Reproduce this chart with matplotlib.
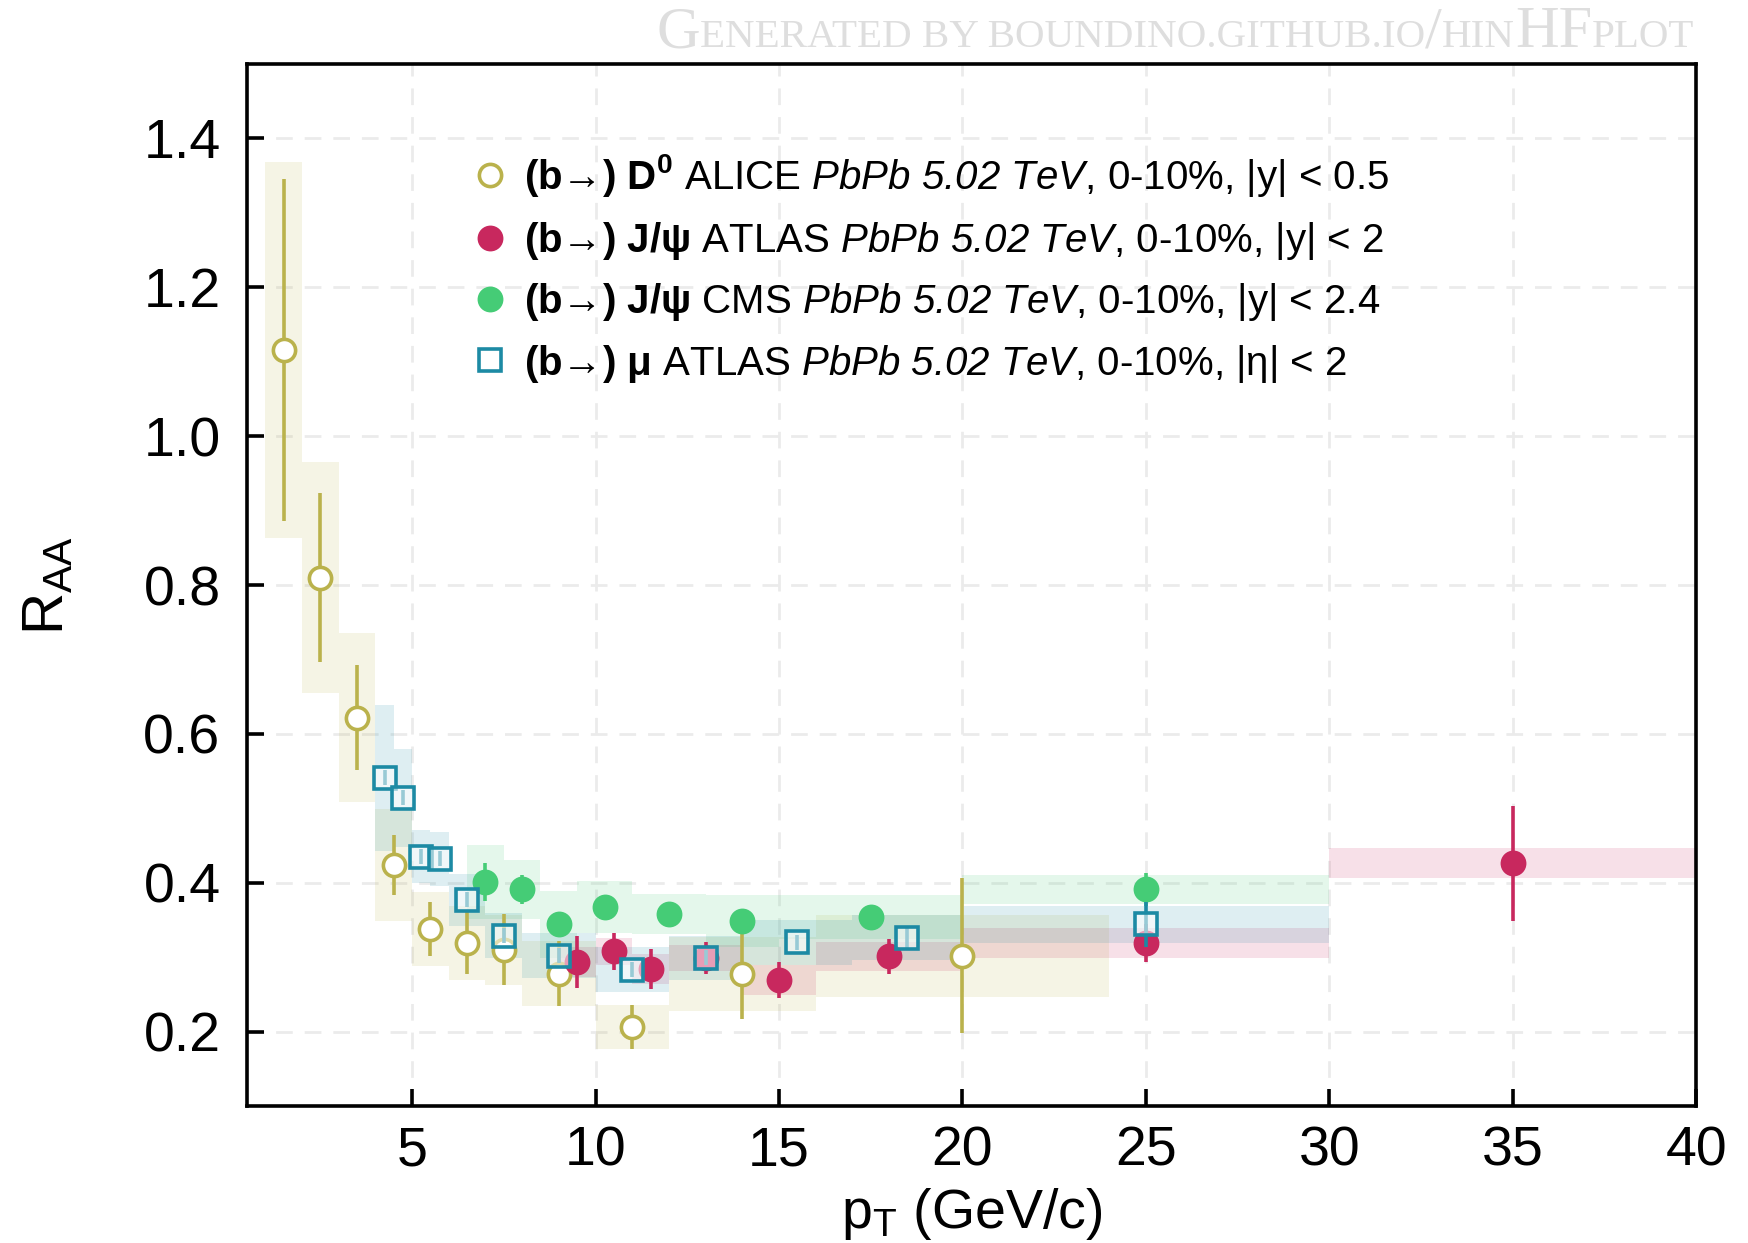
import matplotlib
matplotlib.use("Agg")
import matplotlib.pyplot as plt
from matplotlib.transforms import offset_copy

plt.rcParams["font.family"] = ["Liberation Sans", "DejaVu Sans"]
plt.rcParams["mathtext.fontset"] = "custom"
plt.rcParams["mathtext.rm"] = "Liberation Sans"
plt.rcParams["mathtext.it"] = "Liberation Sans:italic"
plt.rcParams["mathtext.sf"] = "Liberation Sans:italic"
plt.rcParams["mathtext.bf"] = "Liberation Sans:bold"

# (b->) D0 ALICE
alice_x = [1.5, 2.5, 3.5, 4.5, 5.5, 6.5, 7.5, 9, 11, 14, 20]
alice_lo = [1, 2, 3, 4, 5, 6, 7, 8, 10, 12, 16]
alice_hi = [2, 3, 4, 5, 6, 7, 8, 10, 12, 16, 24]
alice_y = [1.116, 0.810, 0.622, 0.424, 0.338, 0.319, 0.310, 0.278, 0.206, 0.277, 0.302]
alice_stat = [0.23, 0.113, 0.071, 0.04, 0.036, 0.042, 0.048, 0.044, 0.03, 0.06, 0.104]
alice_syst = [0.253, 0.155, 0.113, 0.075, 0.05, 0.05, 0.047, 0.044, 0.03, 0.05, 0.055]

# (b->) J/psi ATLAS
atlas_x = [9.5, 10.5, 11.5, 13, 15, 18, 25, 35]
atlas_lo = [9, 10, 11, 12, 14, 16, 20, 30]
atlas_hi = [10, 11, 12, 14, 16, 20, 30, 40]
atlas_y = [0.293, 0.308, 0.284, 0.299, 0.269, 0.301, 0.319, 0.426]
atlas_stat = [0.035, 0.025, 0.027, 0.021, 0.024, 0.024, 0.025, 0.077]
atlas_syst = [0.02, 0.018, 0.02, 0.018, 0.02, 0.02, 0.02, 0.02]

# (b->) J/psi CMS
cms_x = [7, 8, 9, 10.25, 12, 14, 17.5, 25]
cms_lo = [6.5, 7.5, 8.5, 9.5, 11, 13, 15, 20]
cms_hi = [7.5, 8.5, 9.5, 11, 13, 15, 20, 30]
cms_y = [0.401, 0.391, 0.344, 0.367, 0.358, 0.349, 0.354, 0.391]
cms_stat = [0.025, 0.02, 0.01, 0.01, 0.01, 0.01, 0.01, 0.022]
cms_syst = [0.05, 0.04, 0.045, 0.035, 0.027, 0.035, 0.03, 0.02]

# (b->) mu ATLAS
mu_x = [4.25, 4.75, 5.25, 5.75, 6.5, 7.5, 9, 11, 13, 15.5, 18.5, 25]
mu_lo = [4, 4.5, 5, 5.5, 6, 7, 8, 10, 12, 14, 17, 20]
mu_hi = [4.5, 5, 5.5, 6, 7, 8, 10, 12, 14, 17, 20, 30]
mu_y = [0.541, 0.514, 0.435, 0.432, 0.377, 0.329, 0.302, 0.283, 0.299, 0.320, 0.326, 0.344]
mu_stat = [0.01, 0.01, 0.01, 0.01, 0.01, 0.01, 0.01, 0.01, 0.01, 0.01, 0.015, 0.03]
mu_syst = [0.098, 0.066, 0.036, 0.036, 0.035, 0.03, 0.03, 0.03, 0.03, 0.03, 0.03, 0.025]

labels = [
    r"$\mathbf{(b→)\ D^{0}}$ ALICE $\mathsf{PbPb\ 5.02\ TeV}$, 0-10%, |y| < 0.5",
    r"$\mathbf{(b→)\ J/ψ}$ ATLAS $\mathsf{PbPb\ 5.02\ TeV}$, 0-10%, |y| < 2",
    r"$\mathbf{(b→)\ J/ψ}$ CMS $\mathsf{PbPb\ 5.02\ TeV}$, 0-10%, |y| < 2.4",
    r"$\mathbf{(b→)\ μ}$ ATLAS $\mathsf{PbPb\ 5.02\ TeV}$, 0-10%, |η| < 2",
]

series = [
    (alice_x, alice_lo, alice_hi, alice_y, alice_stat, alice_syst, "#bab24c", "o", "white"),
    (atlas_x, atlas_lo, atlas_hi, atlas_y, atlas_stat, atlas_syst, "#c8285e", "o", None),
    (cms_x, cms_lo, cms_hi, cms_y, cms_stat, cms_syst, "#45cc76", "o", None),
    (mu_x, mu_lo, mu_hi, mu_y, mu_stat, mu_syst, "#1c8aa4", "s", (1, 1, 1, 0.55)),
]

fig = plt.figure(figsize=(17.48, 12.43), dpi=100)
ax = fig.add_axes([0.1413, 0.1102, 0.829, 0.8383])

# systematic boxes
for x, lo, hi, y, stat, syst, c, m, fc in series:
    widths = [h - l for l, h in zip(lo, hi)]
    bottoms = [v - s for v, s in zip(y, syst)]
    heights = [2 * s for s in syst]
    ax.bar(lo, heights, width=widths, bottom=bottoms, align="edge",
           color=c, alpha=0.14, linewidth=0, zorder=1)

# points + stat errors, legend drawn by hand
leg_marker_y = [0.8935, 0.8335, 0.7747, 0.7158]
for i, (x, lo, hi, y, stat, syst, c, m, fc) in enumerate(series):
    face = c if fc is None else fc
    ms = 16 if m == "o" else 15.5
    ax.errorbar(x, y, yerr=stat, fmt=m, color=c, ms=ms, mfc=face, mec=c,
                mew=2.6, elinewidth=2.6, capsize=0, zorder=3 + i)
    ax.plot([0.168], [leg_marker_y[i]], ls="none", marker=m, ms=ms,
            mfc=face, mec=c, mew=2.6, transform=ax.transAxes, clip_on=False)
    ax.text(0.191, leg_marker_y[i] - 0.0138, labels[i], fontsize=29,
            va="baseline", ha="left", transform=ax.transAxes)

ax.set_xlim(0.5, 40)
ax.set_ylim(0.1, 1.5)
ax.set_xticks([5, 10, 15, 20, 25, 30, 35, 40])
ax.set_yticks([0.2, 0.4, 0.6, 0.8, 1.0, 1.2, 1.4])
ax.set_yticklabels(["0.2", "0.4", "0.6", "0.8", "1.0", "1.2", "1.4"])
ax.tick_params(direction="in", length=12, width=2.6, labelsize=40)
ax.tick_params(axis="y", pad=19)
ax.tick_params(axis="x", pad=14)
for sp in ax.spines.values():
    sp.set_linewidth(2.6)
ax.set_axisbelow(True)
ax.grid(True, color="#ebebeb", linestyle=(0, (6, 4.3)), linewidth=2)

ax.set_xlabel(r"p$_{\mathrm{T}}$ (GeV/c)", fontsize=40, labelpad=6)
ax.set_ylabel(r"R$_{\mathrm{AA}}$", fontsize=42, labelpad=49)

# watermark in small caps, right aligned to the axes
pieces = [("G", 43.5), ("ENERATED BY BOUNDINO.GITHUB.IO", 29.5), ("/", 43.5),
          ("HIN", 29.5), ("HF", 43.5), ("PLOT", 29.5)]
renderer = fig.canvas.get_renderer()
total = 0
for txt, fs in pieces:
    t = fig.text(0, 0, txt, fontsize=fs, family="Liberation Serif")
    total += t.get_window_extent(renderer=renderer).width
    t.remove()
x0 = 0.9694 - total / fig.bbox.width
tr = fig.transFigure
for txt, fs in pieces:
    t = fig.text(x0, 0.962, txt, fontsize=fs, family="Liberation Serif",
                 color="#dedede", va="baseline", ha="left", transform=tr)
    w = t.get_window_extent(renderer=renderer).width
    tr = offset_copy(t.get_transform(), fig=fig, x=w, units="dots")

fig.savefig("out.png", dpi=100)
